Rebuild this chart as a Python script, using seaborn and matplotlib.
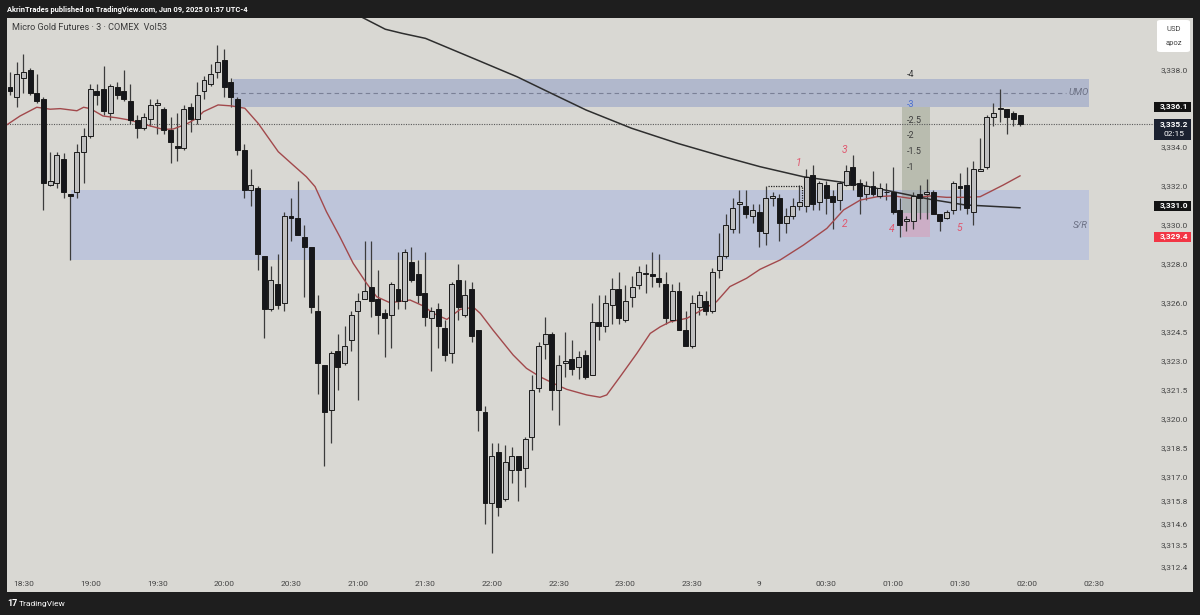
import numpy as np
import pandas as pd
import matplotlib
matplotlib.use("Agg")
import matplotlib.pyplot as plt
import matplotlib.transforms as mtransforms
from matplotlib.patches import Rectangle, FancyBboxPatch
import seaborn as sns

# ---------------- data ----------------
opens = [3337.1, 3336.6, 3337.6, 3338.0, 3336.8, 3336.5, 3332.1, 3332.2, 3333.4, 3331.6,
         3331.7, 3333.8, 3334.6, 3336.9, 3337.0, 3335.8, 3337.1, 3336.9, 3336.4, 3335.4,
         3335.0, 3335.5, 3336.2, 3336.0, 3334.9, 3334.1, 3334.0, 3336.1, 3335.5, 3336.9,
         3337.3, 3337.9, 3338.5, 3337.4, 3336.5, 3333.9, 3331.8, 3331.9, 3328.4, 3325.7,
         3327.0, 3326.0, 3330.5, 3330.4, 3329.4, 3328.9, 3325.6, 3322.8, 3320.5, 3323.5,
         3322.9, 3324.1, 3325.6, 3326.2, 3326.8, 3326.2, 3325.5, 3325.4, 3326.7, 3326.1,
         3328.1, 3327.5, 3326.5, 3325.2, 3325.7, 3324.7, 3323.4, 3327.2, 3325.4, 3326.7,
         3324.6, 3320.4, 3315.7, 3318.3, 3315.9, 3317.4, 3318.1, 3317.5, 3319.1, 3321.6,
         3323.9, 3324.4, 3321.5, 3322.9, 3323.1, 3322.7, 3323.3, 3322.3, 3325.0, 3324.8,
         3325.9, 3326.7, 3325.1, 3326.3, 3326.9, 3327.5, 3327.5, 3327.3, 3327.0, 3325.1,
         3326.6, 3324.6, 3323.8, 3325.8, 3326.1, 3325.6, 3327.7, 3328.4, 3329.8, 3331.1,
         3331.0, 3330.5, 3330.7, 3329.6, 3331.4, 3331.4, 3330.1, 3330.5, 3331.0, 3331.0,
         3332.6, 3331.2, 3332.1, 3331.5, 3331.3, 3332.1, 3333.0, 3332.2, 3331.6, 3332.0,
         3331.5, 3331.7, 3331.7, 3330.8, 3330.2, 3330.2, 3331.6, 3331.6, 3331.7, 3330.6,
         3330.4, 3330.8, 3332.0, 3332.1, 3330.7, 3332.8, 3333.0, 3335.6, 3336.0, 3336.0,
         3335.8, 3335.7]
highs = [3337.9, 3338.4, 3338.8, 3338.1, 3337.8, 3336.6, 3333.8, 3333.8, 3333.7, 3331.6,
         3334.2, 3335.0, 3337.3, 3337.3, 3338.2, 3337.3, 3337.4, 3338.0, 3337.3, 3335.7,
         3335.8, 3336.5, 3336.5, 3336.1, 3335.6, 3335.8, 3336.2, 3336.3, 3337.4, 3337.7,
         3338.3, 3339.3, 3339.1, 3337.6, 3336.6, 3334.2, 3332.9, 3332.0, 3328.4, 3327.9,
         3328.5, 3330.7, 3331.4, 3332.3, 3330.0, 3328.9, 3326.4, 3322.8, 3323.5, 3324.4,
         3324.8, 3325.6, 3326.5, 3329.2, 3329.2, 3327.7, 3325.7, 3327.1, 3328.6, 3328.8,
         3328.9, 3328.2, 3328.6, 3325.8, 3326.0, 3325.1, 3327.1, 3328.0, 3327.2, 3327.1,
         3324.6, 3320.7, 3318.8, 3318.8, 3318.7, 3318.6, 3318.1, 3319.1, 3322.3, 3324.0,
         3325.3, 3324.5, 3323.3, 3324.5, 3324.1, 3323.5, 3323.6, 3326.0, 3326.4, 3326.4,
         3327.3, 3327.6, 3326.9, 3327.4, 3327.9, 3328.0, 3328.6, 3328.5, 3327.6, 3327.0,
         3327.1, 3325.6, 3326.4, 3326.6, 3326.6, 3327.8, 3329.6, 3330.6, 3331.4, 3331.8,
         3331.8, 3331.1, 3331.1, 3332.0, 3331.7, 3331.6, 3330.9, 3331.4, 3332.1, 3332.9,
         3333.1, 3332.3, 3332.3, 3331.8, 3332.3, 3333.1, 3333.6, 3332.4, 3332.3, 3332.8,
         3332.2, 3332.2, 3333.0, 3331.4, 3330.5, 3331.7, 3332.1, 3332.4, 3331.8, 3330.6,
         3330.8, 3332.3, 3332.7, 3333.0, 3333.3, 3334.5, 3335.7, 3336.3, 3337.0, 3336.0,
         3335.9, 3335.7]
lows = [3336.7, 3336.1, 3336.8, 3336.7, 3336.3, 3330.8, 3332.0, 3331.9, 3331.4, 3328.2,
        3331.4, 3332.2, 3334.5, 3336.2, 3335.7, 3335.4, 3336.5, 3336.4, 3335.2, 3334.5,
        3334.9, 3335.1, 3334.7, 3334.7, 3333.2, 3333.3, 3333.9, 3334.8, 3335.2, 3336.5,
        3337.2, 3337.6, 3336.6, 3336.1, 3333.6, 3331.4, 3331.0, 3327.7, 3324.2, 3325.6,
        3325.7, 3325.6, 3329.2, 3329.5, 3326.3, 3325.5, 3321.3, 3317.6, 3318.8, 3321.5,
        3322.8, 3323.5, 3321.0, 3326.2, 3325.3, 3324.4, 3323.2, 3323.7, 3325.7, 3325.7,
        3327.1, 3326.0, 3324.8, 3322.5, 3323.7, 3323.0, 3322.9, 3325.1, 3325.3, 3324.0,
        3319.4, 3314.6, 3313.1, 3315.0, 3315.8, 3316.7, 3315.8, 3316.5, 3318.4, 3321.4,
        3323.1, 3320.5, 3319.7, 3322.2, 3322.3, 3322.1, 3322.1, 3322.3, 3324.1, 3324.5,
        3324.9, 3324.9, 3325.0, 3325.8, 3326.7, 3326.5, 3326.8, 3326.8, 3324.9, 3325.0,
        3324.6, 3323.8, 3323.7, 3325.4, 3325.4, 3325.5, 3327.3, 3328.3, 3329.6, 3329.6,
        3330.4, 3330.1, 3328.9, 3329.0, 3331.0, 3329.2, 3329.6, 3330.3, 3330.8, 3330.7,
        3330.8, 3330.8, 3330.6, 3329.8, 3330.8, 3332.0, 3331.8, 3330.6, 3331.3, 3331.5,
        3331.4, 3331.3, 3330.6, 3329.4, 3329.7, 3329.8, 3330.3, 3330.3, 3330.6, 3329.7,
        3330.3, 3330.6, 3330.8, 3330.6, 3330.0, 3332.8, 3332.9, 3335.1, 3335.3, 3334.7,
        3335.1, 3335.1]
closes = [3336.9, 3337.8, 3337.9, 3336.8, 3336.4, 3332.2, 3332.3, 3333.6, 3331.7, 3331.5,
          3333.8, 3334.6, 3337.0, 3336.7, 3335.9, 3337.2, 3336.7, 3336.5, 3335.4, 3335.0,
          3335.6, 3336.2, 3336.3, 3334.9, 3334.3, 3334.0, 3336.0, 3335.5, 3336.7, 3337.5,
          3337.8, 3338.4, 3337.1, 3336.6, 3333.9, 3331.8, 3332.1, 3328.5, 3325.7, 3327.2,
          3325.9, 3330.5, 3330.4, 3329.5, 3328.9, 3325.8, 3322.9, 3320.4, 3323.4, 3322.7,
          3323.8, 3325.4, 3326.1, 3326.6, 3326.1, 3325.4, 3325.2, 3327.0, 3326.1, 3328.6,
          3327.2, 3326.4, 3325.3, 3325.6, 3324.8, 3323.3, 3327.0, 3325.8, 3326.4, 3324.3,
          3320.5, 3315.7, 3318.1, 3315.5, 3317.8, 3318.1, 3317.4, 3319.0, 3321.5, 3323.8,
          3324.4, 3321.5, 3322.8, 3323.0, 3322.6, 3323.2, 3322.2, 3325.0, 3324.8, 3326.0,
          3326.7, 3325.2, 3326.1, 3326.8, 3327.6, 3327.5, 3327.4, 3327.1, 3325.2, 3326.6,
          3324.6, 3323.8, 3326.0, 3326.4, 3325.6, 3327.6, 3328.4, 3330.0, 3330.9, 3331.2,
          3330.6, 3330.8, 3329.7, 3331.4, 3331.5, 3330.1, 3330.5, 3331.0, 3331.2, 3332.5,
          3331.1, 3332.2, 3331.4, 3331.2, 3332.2, 3332.8, 3332.1, 3331.5, 3332.0, 3331.6,
          3331.9, 3331.7, 3330.7, 3330.0, 3330.3, 3331.5, 3331.4, 3331.7, 3330.6, 3330.2,
          3330.7, 3332.2, 3331.9, 3330.9, 3332.9, 3332.9, 3335.6, 3335.8, 3336.0, 3335.6,
          3335.5, 3335.2]

# moving averages as drawn on the chart (bar position, price)
ema_bar = [-0.5, 1.5, 4.0, 6.0, 7.5, 10.0, 11.0, 12.0, 13.9, 15.9, 17.9, 20.4, 22.9, 24.4,
           26.4, 27.9, 28.9, 31.1, 33.1, 35.1, 37.1, 40.1, 42.3, 44.3, 45.6, 47.3, 49.3,
           51.3, 53.3, 54.8, 56.8, 59.8, 61.8, 63.3, 65.3, 67.3, 69.3, 70.3, 72.2, 75.2,
           77.2, 79.2, 81.2, 83.2, 86.2, 88.2, 89.2, 91.2, 93.7, 95.7, 97.2, 98.7, 101.2,
           103.6, 105.6, 107.6, 110.1, 112.1, 115.1, 118.6, 122.1, 124.6, 127.1, 129.6,
           132.0, 134.5, 137.5, 140.0, 142.5, 145.0, 146.5, 148.5, 151.0]
ema_val = [3335.17, 3335.63, 3336.08, 3335.98, 3336.01, 3335.90, 3336.08, 3336.01, 3335.63,
           3335.54, 3335.42, 3335.17, 3334.94, 3334.96, 3335.22, 3335.51, 3335.85, 3336.20,
           3336.15, 3336.03, 3335.25, 3333.79, 3333.11, 3332.50, 3331.99, 3330.70, 3329.41,
           3328.04, 3327.01, 3326.32, 3326.01, 3326.15, 3325.84, 3325.46, 3325.15, 3325.67,
           3325.77, 3325.46, 3324.60, 3323.32, 3322.63, 3322.20, 3321.86, 3321.55, 3321.26,
           3321.14, 3321.26, 3322.20, 3323.40, 3324.43, 3324.77, 3325.03, 3325.21, 3325.67,
           3326.06, 3326.84, 3327.27, 3327.73, 3328.21, 3328.98, 3329.84, 3330.79, 3331.30,
           3331.47, 3331.52, 3331.39, 3331.51, 3331.44, 3331.44, 3331.47, 3331.73, 3332.08,
           3332.55]
sma_bar = [50.0, 52.6, 56.1, 58.6, 62.1, 69.8, 75.8, 80.9, 86.1, 92.9, 99.8, 106.7, 112.1,
           118.6, 122.1, 127.1, 132.0, 137.5, 142.7, 151.0]
sma_val = [3341.60, 3340.72, 3340.10, 3339.89, 3339.63, 3338.52, 3337.65, 3336.80, 3335.94,
           3335.00, 3334.22, 3333.53, 3333.02, 3332.50, 3332.33, 3332.08, 3331.73, 3331.34,
           3331.05, 3330.90]

price_ticks = [3338.0, 3334.0, 3332.0, 3330.0, 3328.0, 3326.0, 3324.5, 3323.0, 3321.5,
               3320.0, 3318.5, 3317.0, 3315.8, 3314.6, 3313.5, 3312.4]
first_bar_time = "2025-06-08 18:24"
time_ticks = ["18:30", "19:00", "19:30", "20:00", "20:30", "21:00", "21:30", "22:00",
              "22:30", "23:00", "23:30", "9", "00:30", "01:00", "01:30", "02:00", "02:30"]

# drawings
zone_names = ["UMO", "S/R"]
zone_start = [33.3, 9.1]
zone_end = [161.3, 161.3]
zone_top = [3337.52, 3331.82]
zone_bottom = [3336.11, 3328.21]
umo_line = 3336.83
last_price = 3335.2
pos_start, pos_end = 133.3, 137.5
pos_target, pos_entry, pos_stop = 3336.1, 3330.63, 3329.4
fib_labels = ["-4", "-3", "-2.5", "-2", "-1.5", "-1"]
fib_prices = [3337.77, 3336.20, 3335.40, 3334.60, 3333.80, 3333.00]
wave_labels = ["1", "2", "3", "4", "5"]
wave_bars = [117.8, 124.8, 124.8, 131.8, 141.9]
wave_prices = [3333.19, 3330.07, 3333.88, 3329.81, 3329.84]
bracket_bars = [113.3, 118.4, 118.4]
bracket_prices = [3332.02, 3332.02, 3331.2]

# ---------------- style ----------------
sns.set_theme(style="white")
plt.rcParams["font.family"] = ["Roboto", "DejaVu Sans"]

BG = "#d9d8d3"
DARK = "#1e1e1e"
W, H = 1200, 615
fig = plt.figure(figsize=(12, 6.15), dpi=100, facecolor=DARK)
ax = fig.add_axes([7 / W, (H - 592) / H, (1193 - 7) / W, (592 - 18) / H])
ax.set_facecolor(BG)
for s in ax.spines.values():
    s.set_visible(False)
ax.set_xticks([])
ax.set_yticks([])

px_per_bar = 6.69
px_per_unit = 19.41
ax.set_xlim(-(10 - 7) / px_per_bar, (1193 - 10) / px_per_bar)
ax.set_ylim(3338 - (592 - 70) / px_per_unit, 3338 + (70 - 18) / px_per_unit)

df = pd.DataFrame({"open": opens, "high": highs, "low": lows, "close": closes})
df["bar"] = np.arange(len(df))
df["time"] = pd.date_range(first_bar_time, periods=len(df), freq="3min")

# zones
zone_cols = ["#b1b8cc", "#bec5da"]
for s, e, t, b, c in zip(zone_start, zone_end, zone_top, zone_bottom, zone_cols):
    ax.fill_between([s, e], [b, b], [t, t], color=c, lw=0, zorder=1)

# position tool
ax.fill_between([pos_start, pos_end], [pos_entry] * 2, [pos_target] * 2,
                color="#8f967f", alpha=0.42, lw=0, zorder=1.5)
ax.fill_between([pos_start, pos_end], [pos_stop] * 2, [pos_entry] * 2,
                color="#e38aa6", alpha=0.38, lw=0, zorder=1.5)

# dashed UMO line, dotted last price line
ax.plot([zone_start[0], 157.8], [umo_line, umo_line], color="#7a8096",
        lw=0.8, ls=(0, (4, 3)), zorder=2)
trans_xa = mtransforms.blended_transform_factory(ax.transAxes, ax.transData)
ax.plot([0, 0.967], [last_price, last_price], transform=trans_xa, color="#5a5a5a",
        lw=0.8, ls=(0, (1, 1.2)), zorder=2)

# dotted bracket
ax.plot(bracket_bars, bracket_prices, color="#222222", lw=0.9, ls=(0, (1, 1)), zorder=5)

# candles
up = df["close"] >= df["open"]
ax.vlines(df["bar"], df["low"], df["high"], color="#3c3c3c", lw=0.9, zorder=3)
bottoms = np.minimum(df["open"], df["close"])
heights = np.maximum((df["close"] - df["open"]).abs(), 0.04)
ax.bar(df["bar"], heights, bottom=bottoms, width=0.74,
       color=np.where(up, "#c0c0c0", "#16171b"), edgecolor="#1a1a1a",
       linewidth=0.7, zorder=4)

# moving averages
sns.lineplot(x=ema_bar, y=ema_val, ax=ax, color="#a2494c", lw=1.0, zorder=3.5,
             sort=False, estimator=None)
sns.lineplot(x=sma_bar, y=sma_val, ax=ax, color="#2e2e2e", lw=1.1, zorder=3.5,
             sort=False, estimator=None)

# zone labels
ax.text(159.7, 3336.85, "UMO", color="#6c7184", fontsize=6.8, style="italic",
        ha="center", va="center", zorder=6)
ax.text(160.0, 3330.01, "S/R", color="#6c7184", fontsize=6.8, style="italic",
        ha="center", va="center", zorder=6)

# fib labels
for lab, p in zip(fib_labels, fib_prices):
    ax.text(134.0, p, lab, color="#4a6fd0" if lab == "-3" else "#3d3d3d",
            fontsize=6.5, ha="left", va="center", zorder=6)

# wave counts
for lab, b, p in zip(wave_labels, wave_bars, wave_prices):
    ax.text(b, p, lab, color="#e0566d", fontsize=7.5, style="italic",
            ha="center", va="center", zorder=6)

# price scale labels
lab_x = (1174 - 7) / (1193 - 7)
for p in price_ticks:
    ax.text(lab_x, p, f"{p:,.1f}", transform=trans_xa, fontsize=6, color="#444444",
            ha="center", va="center", zorder=6)

box_x0 = (1154 - 7) / (1193 - 7)
box_w = (1191 - 1154) / (1193 - 7)
box_h = 10.5 / px_per_unit


def price_box(p, text, fc, h=box_h):
    ax.add_patch(Rectangle((box_x0, p - h / 2), box_w, h, transform=trans_xa,
                           facecolor=fc, edgecolor="none", zorder=7, clip_on=False))
    ax.text(lab_x, p, text, transform=trans_xa, fontsize=6, color="white",
            fontweight="bold", ha="center", va="center", zorder=8)


price_box(3336.1, "3,336.1", "#131313")
ax.add_patch(Rectangle((box_x0, 3334.40), box_w, 3335.48 - 3334.40, transform=trans_xa,
                       facecolor="#1b2130", edgecolor="none", zorder=7))
ax.text(lab_x, 3335.19, "3,335.2", transform=trans_xa, fontsize=6, color="white",
        fontweight="bold", ha="center", va="center", zorder=8)
ax.text(lab_x, 3334.68, "02:15", transform=trans_xa, fontsize=6, color="white",
        ha="center", va="center", zorder=8)
price_box(3331.0, "3,331.0", "#131313")
price_box(3329.4, "3,329.4", "#f23645")

# time axis labels
tick_times = [pd.Timestamp(first_bar_time) + pd.Timedelta(minutes=6 + 30 * k)
              for k in range(len(time_ticks))]
t0 = pd.Timestamp(first_bar_time)
for lab, t in zip(time_ticks, tick_times):
    b = (t - t0) / pd.Timedelta(minutes=3)
    ax.text(b, (592 - 584) / (592 - 18), lab,
            transform=mtransforms.blended_transform_factory(ax.transData, ax.transAxes),
            fontsize=6, color="#444444", ha="center", va="center", zorder=6)

# header / legend texts
fig.text(7 / W, 1 - 9.5 / H, "AkrinTrades published on TradingView.com, Jun 09, 2025 01:57 UTC-4",
         color="white", fontsize=5.4, fontweight="bold", ha="left", va="center")
fig.text(12 / W, 1 - 27 / H, "Micro Gold Futures · 3 · COMEX  Vol53",
         color="#3a3a3a", fontsize=6.6, ha="left", va="center")

# USD box
fig.patches.append(FancyBboxPatch((1157 / W, 1 - 52 / H), 33 / W, 32 / H,
                                  boxstyle="round,pad=0,rounding_size=0.003",
                                  transform=fig.transFigure, facecolor="white",
                                  edgecolor="none", zorder=9, figure=fig))
fig.text(1173.5 / W, 1 - 29 / H, "USD", color="#444444", fontsize=5.5,
         ha="center", va="center", zorder=10)
fig.text(1173.5 / W, 1 - 43 / H, "apoz", color="#444444", fontsize=5.5,
         ha="center", va="center", zorder=10)

# footer logo
fig.text(7 / W, 1 - 604 / H, "17", color="white", fontsize=6.5, fontweight="bold",
         ha="left", va="center")
fig.text(19 / W, 1 - 604 / H, "TradingView", color="white", fontsize=6,
         ha="left", va="center")

fig.savefig("out.png", dpi=100, facecolor=DARK)
